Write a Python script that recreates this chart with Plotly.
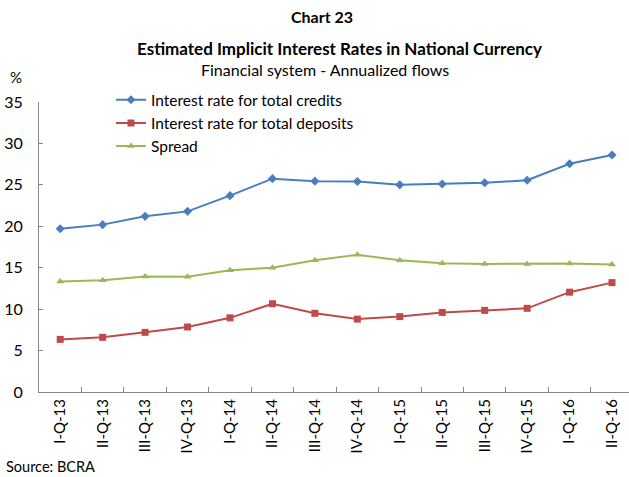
import plotly.graph_objects as go

categories = ["I-Q-13", "II-Q-13", "III-Q-13", "IV-Q-13", "I-Q-14", "II-Q-14", "III-Q-14",
              "IV-Q-14", "I-Q-15", "II-Q-15", "III-Q-15", "IV-Q-15", "I-Q-16", "II-Q-16"]
credits = [19.7, 20.2, 21.2, 21.8, 23.7, 25.75, 25.45, 25.4, 25.0, 25.1, 25.25, 25.55, 27.55, 28.6]
deposits = [6.35, 6.6, 7.2, 7.85, 8.95, 10.65, 9.5, 8.8, 9.1, 9.6, 9.85, 10.1, 12.05, 13.2]
spread = [13.35, 13.5, 13.95, 13.9, 14.7, 15.0, 15.9, 16.55, 15.9, 15.55, 15.45, 15.45, 15.5, 15.4]

FONT = "Lato"

fig = go.Figure()
fig.add_trace(go.Scatter(x=categories, y=credits, name="Interest rate for total credits",
                         mode="lines+markers", line=dict(color="#4a7ebb", width=2),
                         marker=dict(symbol="diamond", size=7, color="#4a7ebb")))
fig.add_trace(go.Scatter(x=categories, y=deposits, name="Interest rate for total deposits",
                         mode="lines+markers", line=dict(color="#be4b48", width=2),
                         marker=dict(symbol="square", size=7, color="#be4b48")))
fig.add_trace(go.Scatter(x=categories, y=spread, name="Spread",
                         mode="lines+markers", line=dict(color="#98b954", width=2),
                         marker=dict(symbol="triangle-up", size=7, color="#98b954")))

fig.update_layout(
    width=629, height=477,
    margin=dict(l=39, r=0, t=102, b=85),
    paper_bgcolor="white", plot_bgcolor="white",
    font=dict(family=FONT, size=16, color="black"),
    showlegend=True,
    legend=dict(x=0.122, y=1.065, xanchor="left", yanchor="top",
                font=dict(family=FONT, size=15.5), bgcolor="rgba(0,0,0,0)",
                itemwidth=30, tracegroupgap=0),
    xaxis=dict(range=[-0.5, 13.4], showline=True, linecolor="#868686", linewidth=1,
               ticks="inside", tickson="boundaries", ticklen=5, tickcolor="#868686",
               tickangle=-90, tickfont=dict(family=FONT, size=15), showgrid=False,
               zeroline=False),
    yaxis=dict(range=[0, 35], dtick=5, showline=True, linecolor="#868686", linewidth=1,
               ticks="inside", ticklen=4, tickcolor="#868686", showgrid=False,
               zeroline=False, tickfont=dict(family=FONT, size=16), ticklabelstandoff=12),
)

annotations = [
    dict(text="<b>Chart 23</b>", xp=322, yp=16, size=16),
    dict(text="<b>Estimated Implicit Interest Rates in National Currency</b>", xp=339, yp=48, size=17),
    dict(text="Financial system - Annualized flows", xp=325, yp=69, size=16),
    dict(text="%", xp=16, yp=77, size=15),
    dict(text="Source: BCRA", xp=50, yp=466, size=14.5),
]
for a in annotations:
    fig.add_annotation(text=a["text"], x=(a["xp"] - 39) / 590, y=(477 - 85 - a["yp"]) / 290,
                       xref="paper", yref="paper", showarrow=False,
                       xanchor="center", yanchor="middle", font=dict(size=a["size"], family=FONT))

fig.write_html("out.html")
